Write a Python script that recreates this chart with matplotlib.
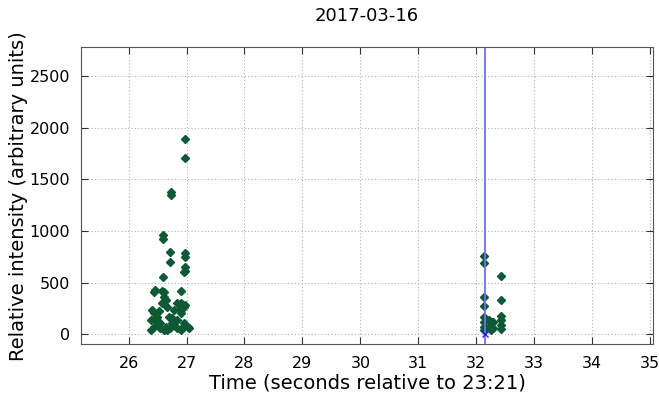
import matplotlib
matplotlib.use("Agg")
import matplotlib.pyplot as plt

# Detected events: time offset (s) and relative intensity
burst_a_t = [
    26.97, 26.97, 26.73, 26.73, 26.59, 26.59, 26.71, 26.71, 26.97, 26.97,
    26.97, 26.97, 26.59, 26.46, 26.61, 26.90, 26.95, 26.97, 26.43, 26.58,
    26.90, 26.61, 26.58, 26.84, 26.95, 26.67, 26.41, 26.78, 26.90, 26.43,
    26.49, 26.69, 26.38, 26.84, 26.55, 26.75, 26.95, 26.43, 26.64, 26.84,
    27.04, 26.38, 26.61, 26.72, 26.90, 26.49, 26.55, 26.67, 26.78, 26.95,
    26.46, 26.75, 26.88, 27.02, 26.52, 26.64,
]
burst_a_v = [
    1890, 1707, 1376, 1346, 960, 920, 800, 703, 784, 745,
    654, 616, 558, 428, 412, 422, 606, 284, 412, 422,
    300, 364, 300, 300, 267, 267, 235, 235, 203, 203,
    170, 170, 138, 138, 106, 106, 110, 74, 74, 58,
    58, 42, 42, 58, 42, 90, 60, 45, 120, 80,
    150, 160, 250, 70, 230, 330,
]

burst_b_t = [
    32.14, 32.14, 32.43, 32.14, 32.14, 32.43, 32.14, 32.14, 32.14, 32.14,
    32.22, 32.28, 32.22, 32.28, 32.25, 32.42, 32.43, 32.43, 32.42,
]
burst_b_v = [
    761, 687, 564, 364, 277, 332, 165, 122, 74, 42,
    138, 122, 74, 58, 40, 177, 138, 90, 48,
]

trigger_t = 32.15

fig = plt.figure(figsize=(6.59, 4.0), dpi=100)
ax = fig.add_axes([0.123, 0.139, 0.868, 0.743])

ax.plot(burst_a_t, burst_a_v, linestyle="none", marker="D", ms=4.5,
        color="#0b5a34", mec="#0b5a34")
ax.plot(burst_b_t, burst_b_v, linestyle="none", marker="D", ms=4.5,
        color="#0b5a34", mec="#0b5a34")
ax.axvline(trigger_t, color="#7070ff", linewidth=1.3)
ax.plot([trigger_t], [0], linestyle="none", marker="x", ms=5,
        color="#2020ff", mew=1.0)

ax.set_xlim(25.18, 35.05)
ax.set_ylim(-97, 2778)
ax.set_xticks(range(26, 36))
ax.set_yticks(range(0, 3000, 500))

ax.grid(True, linestyle=(0, (1, 2)), color="#b0b0b0", linewidth=0.8)
ax.tick_params(direction="in", top=True, right=True, length=5,
               labelsize=11.5, pad=8, color="#333333")
for sp in ax.spines.values():
    sp.set_color("#555555")

ax.set_xlabel("Time (seconds relative to 23:21)", fontsize=14, labelpad=2)
ax.set_ylabel("Relative intensity (arbitrary units)", fontsize=14, labelpad=1)
ax.set_title("2017-03-16", fontsize=13, pad=19)

fig.savefig("out.png", dpi=100)
